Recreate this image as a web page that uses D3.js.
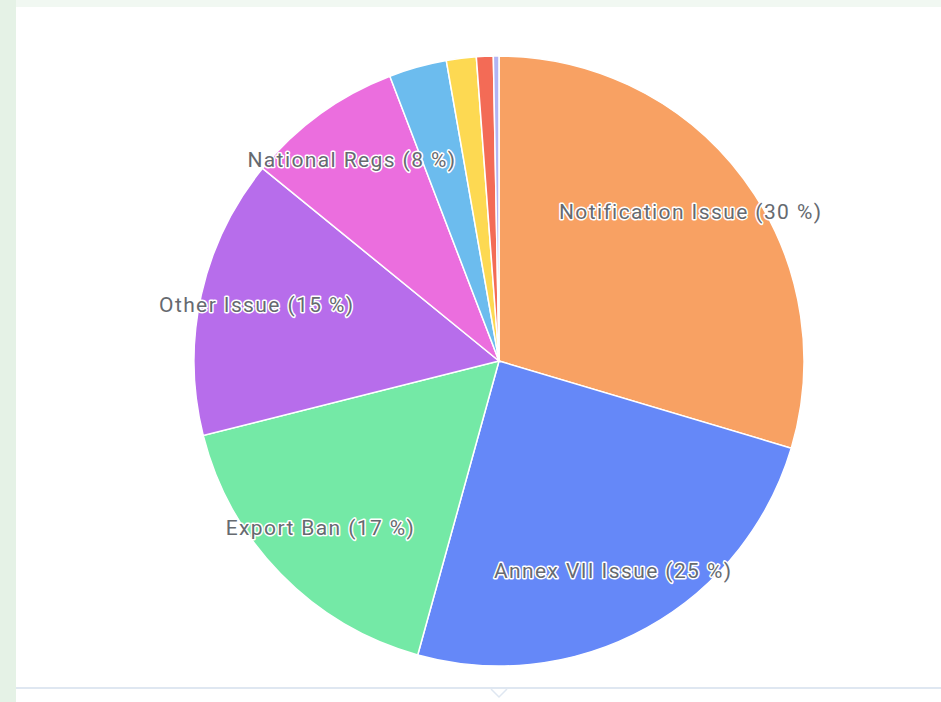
<!DOCTYPE html>
<html>
<head>
<meta charset="utf-8">
<script src="https://cdn.jsdelivr.net/npm/d3@7"></script>
<style>
    html, body { margin: 0; padding: 0; }
    body { width: 941px; height: 702px; background: #f1f8f2; overflow: hidden; font-family: Roboto, sans-serif; }
    svg { display: block; }
</style>
</head>
<body>
<svg id="chart" width="941" height="702"></svg>
<script>
// 数据
const categories = ["Notification Issue", "Annex VII Issue", "Export Ban", "Other Issue", "National Regs",
    "Waste Codes", "Transit Issue", "Packaging", "Labelling"]
const shares = [30, 25, 17, 15, 8.4, 3.1, 1.6, 0.9, 0.3]
const colors = ["#f8a163", "#6588f8", "#74e9a6", "#b76deb", "#eb6ede", "#6cbcee", "#fdd952", "#f36b56", "#b2b4f4"]

let width = 941
let height = 702
let cx = 499, cy = 361, radius = 305

const svg = d3.select("#chart")

// 背景面板
svg.append("rect")
    .attr("x", 0).attr("y", 0).attr("width", 16).attr("height", height)
    .attr("fill", "#e5f2e6")
svg.append("rect")
    .attr("x", 16).attr("y", 7).attr("width", width - 16).attr("height", height - 7)
    .attr("fill", "#ffffff")
svg.append("line")
    .attr("x1", 16).attr("x2", width).attr("y1", 688).attr("y2", 688)
    .attr("stroke", "#dfe7f1").attr("stroke-width", 2)
svg.append("path")
    .attr("d", "M491,689 L499,697 L507,689")
    .attr("fill", "#ffffff")
    .attr("stroke", "#dfe7f1").attr("stroke-width", 1.5)

const pie = d3.pie().sort(null).value(d => d.value)
const data = categories.map((c, i) => ({ name: c, value: shares[i], color: colors[i] }))
const arcs = pie(data)

const arc = d3.arc().innerRadius(0).outerRadius(radius)
const labelArc = d3.arc().innerRadius(radius * 0.8).outerRadius(radius * 0.8)

const g = svg.append("g").attr("transform", "translate(" + cx + "," + cy + ")")

g.selectAll("path.slice")
    .data(arcs)
    .enter()
    .append("path")
    .attr("class", "slice")
    .attr("d", arc)
    .attr("fill", d => d.data.color)
    .attr("stroke", "#ffffff")
    .attr("stroke-width", 1.5)

const total = d3.sum(shares)

// 标签
g.selectAll("text.label")
    .data(arcs.filter(d => d.data.value / total >= 0.05))
    .enter()
    .append("text")
    .attr("class", "label")
    .attr("transform", d => "translate(" + labelArc.centroid(d) + ")")
    .attr("text-anchor", "middle")
    .attr("dx", -4)
    .attr("dy", "0.18em")
    .style("font-size", "21px")
    .style("letter-spacing", "1.4px")
    .style("fill", "#666a70")
    .style("stroke", "#ffffff")
    .style("stroke-width", "3px")
    .style("stroke-linejoin", "round")
    .style("paint-order", "stroke")
    .text(d => d.data.name + " (" + Math.round(d.data.value / total * 100) + " %)")
</script>
</body>
</html>
